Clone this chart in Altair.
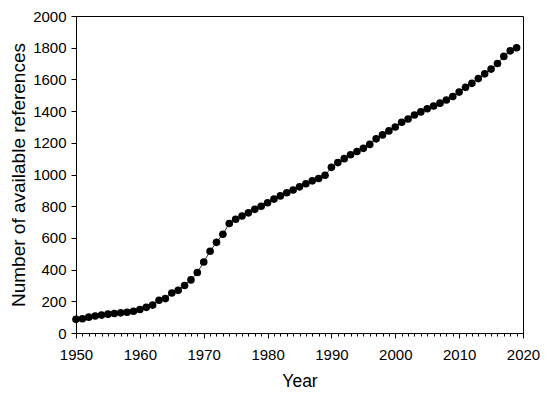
import altair as alt
import pandas as pd

years = list(range(1950, 2020))
refs = [86, 90, 100, 107, 113, 119, 123, 127, 131, 137,
        148, 162, 176, 207, 217, 252, 269, 300, 335, 382,
        448, 516, 572, 623, 691, 718, 738, 758, 780, 800,
        822, 845, 865, 885, 902, 922, 942, 960, 975, 995,
        1045, 1075, 1100, 1125, 1145, 1165, 1190, 1225, 1250, 1275,
        1300, 1330, 1350, 1375, 1395, 1415, 1432, 1450, 1470, 1492,
        1520, 1550, 1575, 1605, 1635, 1665, 1700, 1745, 1780, 1800]

x_ticks = list(range(1950, 2021))
y_ticks = list(range(0, 2001, 200))

df = pd.DataFrame({"Year": years, "Refs": refs})

FONT = "Liberation Sans"

x = alt.X("Year:Q",
          scale=alt.Scale(domain=[1950, 2020], nice=False, zero=False),
          axis=alt.Axis(title="Year", values=x_ticks, format="d",
                        labelExpr="datum.value % 10 === 0 ? datum.label : ''",
                        labelOverlap=False, labelFlush=False,
                        tickSize={"condition": {"test": "datum.value % 10 === 0", "value": 5}, "value": 3},
                        labelPadding=9, titlePadding=10, titleFontSize=17.5))
y = alt.Y("Refs:Q",
          scale=alt.Scale(domain=[0, 2000], nice=False),
          axis=alt.Axis(title="Number of available references", values=y_ticks, format="d",
                        labelFlush=False,
                        tickSize=5, labelPadding=5, titlePadding=4, titleFontSize=19))

base = alt.Chart(df)
line = base.mark_line(color="#333333", strokeWidth=1).encode(x=x, y=y)
pts = base.mark_circle(color="black", opacity=1, size=58).encode(x=x, y=y)

chart = (line + pts).properties(
    width=447, height=317,
    autosize=alt.AutoSizeParams(type="none"),
    padding={"left": 68, "top": 8, "right": 18, "bottom": 60},
    background="white",
).configure_view(
    stroke="black", strokeWidth=1
).configure_axis(
    grid=False, domainColor="black", tickColor="black", domainWidth=1, tickWidth=1,
    labelFont=FONT, titleFont=FONT, labelFontSize=15,
    labelColor="black", titleColor="black", titleFontWeight="normal",
)

chart.save("out.html", embed_options={"renderer": "svg", "actions": False})
